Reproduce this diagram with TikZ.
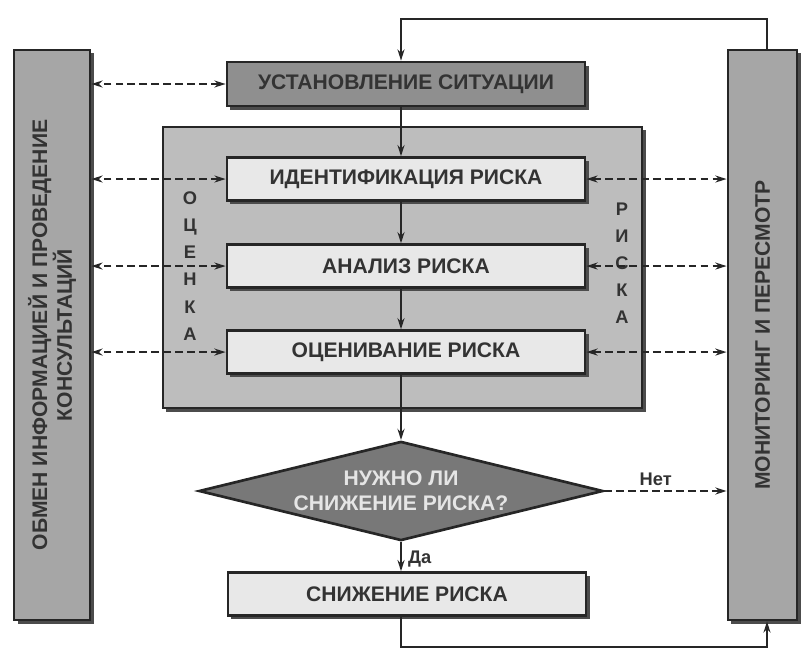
\documentclass[tikz,border=0pt]{standalone}
\usepackage{fontspec}
\setmainfont{Liberation Sans}
\usetikzlibrary{shapes,shapes.geometric,arrows.meta,calc,positioning,shadows}

\definecolor{barfill}{gray}{0.65}
\definecolor{darkfill}{gray}{0.56}
\definecolor{decfill}{gray}{0.47}
\definecolor{frame}{gray}{0.74}
\definecolor{lightfill}{gray}{0.91}
\definecolor{txt}{gray}{0.2}

\begin{document}
\begin{tikzpicture}[%
    x=0.025cm, y=-0.025cm,
    >={Stealth[length=8pt,width=5pt]},
    on grid,
    shade/.style={drop shadow={shadow xshift=2.5pt, shadow yshift=-2.5pt, fill=black!70, opacity=1}},
    box/.style={draw=black!85, line width=1.9pt, fill=lightfill, shade,
      minimum width=8.95cm, minimum height=1.07cm, inner sep=0pt,
      text=txt, font=\bfseries\fontsize{15}{15}\selectfont},
    bar/.style={draw=black!85, line width=1.9pt, fill=barfill, shade, inner sep=0pt},
    bartext/.style={rotate=90, align=center, text=txt, font=\bfseries\fontsize{15}{15.5}\selectfont},
    letters/.style={align=center, text=txt, font=\bfseries\fontsize{13}{19.3}\selectfont},
    line/.style={line width=1.3pt, black!85},
    dasharr/.style={<->, line, dash pattern=on 5.5pt off 3pt}
  ]
  \useasboundingbox (0,0) rectangle (802,657);

  % side bars
  \node[bar, minimum width=1.9cm, minimum height=14.25cm] (obmen) at (52,335) {};
  \node[bartext] (obmentxt) at (obmen.center) {ОБМЕН ИНФОРМАЦИЕЙ И ПРОВЕДЕНИЕ\\КОНСУЛЬТАЦИЙ};
  \node[bar, minimum width=1.73cm, minimum height=14.25cm] (monit) at (762.5,335) {};
  \node[bartext] (monittxt) at (monit.center) {МОНИТОРИНГ И ПЕРЕСМОТР};

  % risk assessment frame
  \node[bar, fill=frame, minimum width=11.975cm, minimum height=7.025cm] (ocenka) at (402.5,267.5) {};
  \node[letters] (ocenkatxt) at (190,266) {О\\Ц\\Е\\Н\\К\\А};
  \node[letters] (riskatxt) at (622,263) {Р\\И\\С\\К\\А};

  % boxes
  \node[box, fill=darkfill, minimum height=1.1cm] (situ) at (406,84) {УСТАНОВЛЕНИЕ СИТУАЦИИ};
  \node[box] (ident) [below=2.375cm of situ] {ИДЕНТИФИКАЦИЯ РИСКА};
  \node[box] (anal) [below=2.175cm of ident] {АНАЛИЗ РИСКА};
  \node[box] (ocen) [below=2.15cm of anal] {ОЦЕНИВАНИЕ РИСКА};
  \node[diamond, draw=black!85, line width=1.9pt, fill=decfill, aspect=4, inner sep=0pt,
    minimum width=10.1cm, minimum height=2.48cm, align=center, text=black!10,
    font=\bfseries\fontsize{15}{17.5}\selectfont] (reshen) at (401,491) {НУЖНО ЛИ\\СНИЖЕНИЕ РИСКА?};
  \node[box] (snizh) at (407,594) {СНИЖЕНИЕ РИСКА};

  \coordinate (loopTop) at (767,19);
  \coordinate (loopBot) at (767,647);

  % main flow
  \path[->, line] (situ.south -| reshen) edge (ident.north -| reshen);
  \path[->, line] (ident.south -| reshen) edge (anal.north -| reshen);
  \path[->, line] (anal.south -| reshen) edge (ocen.north -| reshen);
  \path[->, line] (ocen.south -| reshen) edge (reshen.north);
  \path[->, line] (reshen.south) edge node[right, xshift=1pt, yshift=-2pt, text=txt,
    font=\bfseries\fontsize{13}{13}\selectfont] {Да} (snizh.north -| reshen);
  \draw[->, line] (monit.north -| loopTop) -- (loopTop) -| (situ.north -| reshen);
  \draw[->, line] (snizh.south -| reshen) |- (loopBot) -- (monit.south -| loopBot);

  % consultation links
  \draw[dasharr] (situ.west) -- (situ.west -| obmen.east);
  \draw[dasharr] (ident.west) -- (ident.west -| obmen.east);
  \draw[dasharr] (anal.west) -- (anal.west -| obmen.east);
  \draw[dasharr] (ocen.west) -- (ocen.west -| obmen.east);

  % monitoring links
  \draw[dasharr] (ident.east) -- (ident.east -| monit.west);
  \draw[dasharr] (anal.east) -- (anal.east -| monit.west);
  \draw[dasharr] (ocen.east) -- (ocen.east -| monit.west);
  \draw[->, line, dash pattern=on 5.5pt off 3pt] (reshen.east) -- (reshen.east -| monit.west)
    node[pos=0.42, above, text=txt, font=\bfseries\fontsize{13}{13}\selectfont] {Нет};
\end{tikzpicture}
\end{document}
